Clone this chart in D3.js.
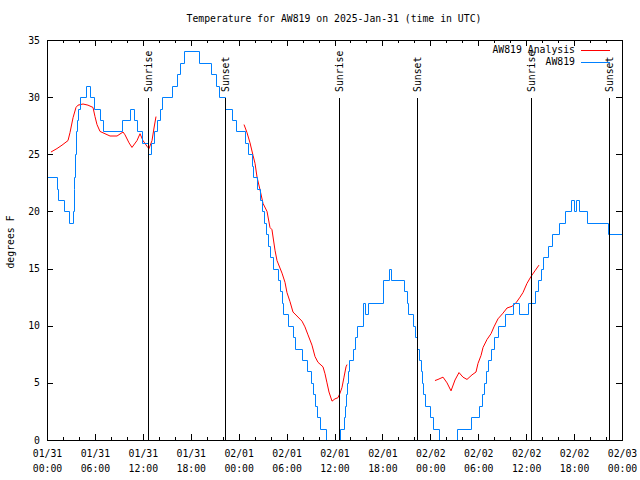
<!DOCTYPE html>
<html><head><meta charset="utf-8">
<script src="https://cdn.jsdelivr.net/npm/d3@7"></script>
<style>
body{margin:0;background:#fff}
svg{display:block}
text{font-family:"DejaVu Sans Mono","Liberation Mono",monospace;font-size:9.8px;fill:#000}
</style>
</head><body>
<svg id="c" width="640" height="480"></svg>
<script>
const startTime = Date.UTC(2025, 0, 31, 0, 0);
const endTime = Date.UTC(2025, 1, 3, 0, 0);
const titleText = "Temperature for AW819 on 2025-Jan-31 (time in UTC)";
const yLabel = "degrees F";
const seriesNames = ["AW819 Analysis", "AW819"];
const seriesColors = ["#ff0000", "#0080ff"];
const yTicks = [0, 5, 10, 15, 20, 25, 30, 35];

// Observations: hours since 01/31 00:00 UTC, value held until next point
const obsHours = [0, 1.25, 1.38, 2.13, 2.75, 3.26, 3.32, 3.38, 3.51, 3.63, 3.76, 3.88, 4.13, 4.88, 5.38, 5.89,
  6.64, 7.01, 9.39, 10.39, 10.89, 11.27, 11.9, 12.65, 13.02, 13.4, 13.77, 14.15, 14.4, 15.65, 16.28, 16.65,
  17.15, 19.03, 20.54, 21.16, 21.54, 22.29, 23.17, 23.67, 24.79, 25.17, 25.67, 25.8, 26.3, 26.67, 26.92,
  27.17, 27.42, 27.67, 27.92, 28.3, 28.93, 29.18, 29.43, 29.55, 30.18, 30.8, 31.05, 31.93, 32.56, 33.06,
  33.31, 33.56, 33.81, 34.18, 34.94, 35.06, 36.56, 36.69, 37.19, 37.32, 37.44, 37.57, 37.69, 37.82, 38.32,
  38.57, 38.82, 39.57, 39.82, 40.2, 42.07, 42.82, 43.08, 44.7, 45.08, 45.2, 45.83, 46.08, 46.33, 46.58,
  46.83, 46.96, 47.08, 47.33, 47.96, 48.33, 49.09, 49.21, 51.34, 53.09, 54.09, 54.47, 54.72, 54.97, 55.22,
  55.6, 55.97, 56.47, 57.35, 58.35, 59.1, 60.23, 61.11, 61.48, 61.86, 62.11, 62.73, 63.24, 64.11, 64.86,
  65.62, 65.99, 66.24, 66.62, 67.62, 70.25, 72];
const obsTemps = [23, 22, 21, 20, 19, 20, 22, 23, 25, 27, 28, 29, 30, 31, 30, 29,
  28, 27, 28, 29, 28, 27, 26, 25, 26, 27, 28, 29, 30, 31, 32, 33,
  34, 33, 32, 31, 30, 29, 28, 27, 26, 25, 24, 23, 22, 21, 20,
  19, 18, 17, 16, 15, 14, 13, 12, 11, 10, 9, 8, 7, 6, 5,
  4, 3, 2, 1, 0, -1, 0, 1, 2, 3, 4, 5, 6, 7, 8,
  9, 10, 12, 11, 12, 14, 15, 14, 13, 12, 11, 10, 9, 8, 7,
  6, 5, 4, 3, 2, 1, 0, -1, 1, 2, 3, 4, 5, 6, 7,
  8, 9, 10, 11, 12, 11, 12, 13, 14, 15, 16, 17, 18, 19, 20,
  21, 20, 21, 20, 19, 18, 18];

// Analysis: hours since 01/31 00:00 UTC, null marks a gap
const anaHours = [0.5, 1.25, 1.88, 2.63, 2.88, 3.26, 3.63, 3.88, 4.51, 5.13, 5.76, 6.01, 6.26, 6.64, 7.26, 7.89,
  8.77, 9.52, 9.77, 10.27, 10.64, 11.27, 11.65, 12.02, 12.52, 12.77, 13.15, 13.4, 13.65, 18,
  24.67, 25.04, 25.42, 25.8, 26.05, 26.3, 26.67, 27.05, 27.55, 27.92, 28.17, 28.55, 28.8, 29.43, 29.8,
  30.05, 30.43, 30.8, 31.3, 31.93, 32.3, 32.68, 33.18, 33.56, 33.93, 34.56, 34.81, 35.06, 35.31, 35.69,
  36.06, 36.44, 36.69, 36.94, 37.19, 37.44, 37.57, 42,
  48.58, 48.96, 49.59, 50.09, 50.59, 51.09, 51.59, 52.09, 52.59, 53.22, 53.72, 53.97, 54.35, 54.6, 55.1,
  55.6, 55.97, 56.47, 57.1, 57.6, 58.23, 58.73, 59.23, 59.6, 60.1, 60.6, 61.1, 61.6];
const anaTemps = [25.2, 25.5, 25.8, 26.2, 26.9, 28.2, 29.1, 29.3, 29.4, 29.3, 29.1, 28.3, 27.6, 27.0, 26.8, 26.6,
  26.6, 26.95, 26.7, 26.0, 25.6, 26.2, 26.8, 26.2, 25.7, 25.5, 26.2, 27.3, 28.3, null,
  27.6, 26.9, 26.0, 24.9, 24.2, 23.0, 21.9, 20.7, 20.0, 18.6, 18.4, 16.6, 15.7, 14.6, 13.8,
  12.9, 12.1, 11.2, 10.85, 10.4, 9.9, 9.2, 8.3, 7.3, 6.8, 6.4, 5.8, 5.0, 4.2, 3.4,
  3.6, 3.7, 4.1, 4.6, 5.5, 6.4, 6.6, null,
  5.2, 5.3, 5.5, 5.0, 4.3, 5.25, 5.9, 5.5, 5.3, 5.7, 5.95, 6.7, 7.4, 8.1, 8.8,
  9.3, 9.9, 10.6, 11.1, 11.55, 11.7, 12.0, 12.5, 12.9, 13.7, 14.3, 14.8, 15.3];

const sunHours = [12.65, 22.29, 36.56, 46.33, 60.6, 70.37];
const sunLabels = ["Sunrise", "Sunset", "Sunrise", "Sunset", "Sunrise", "Sunset"];

const H = 3600 * 1000;
const toDate = h => new Date(startTime + h * H);

const svg = d3.select("#c");
const L = 47, R = 622, T = 40, B = 440;
const x = d3.scaleUtc().domain([new Date(startTime), new Date(endTime)]).range([L, R]);
const y = d3.scaleLinear().domain([0, 35]).range([B, T]);
const px = v => Math.round(v) + 0.5;

svg.append("rect").attr("width", 640).attr("height", 480).attr("fill", "#fff");

svg.append("defs").append("clipPath").attr("id", "clip")
  .append("rect").attr("x", L).attr("y", T).attr("width", R - L + 1).attr("height", B - T);

// minor ticks every 2h
const minorTimes = d3.utcHour.every(2).range(new Date(startTime), new Date(endTime + 1))
  .filter(d => d.getUTCHours() % 6 !== 0);
const majorTimes = d3.utcHour.every(6).range(new Date(startTime), new Date(endTime + 1));

function styleAxis(g) {
  g.select(".domain").remove();
  g.selectAll("line").attr("stroke", "#000").attr("shape-rendering", "crispEdges");
}

svg.append("g").attr("transform", `translate(0,${B})`)
  .call(d3.axisBottom(x).tickValues(minorTimes).tickSizeInner(-3).tickSizeOuter(0).tickFormat(""))
  .call(styleAxis);
svg.append("g").attr("transform", `translate(0,${T})`)
  .call(d3.axisTop(x).tickValues(minorTimes).tickSizeInner(-3).tickSizeOuter(0).tickFormat(""))
  .call(styleAxis);
const xAxisG = svg.append("g").attr("transform", `translate(0,${B})`)
  .call(d3.axisBottom(x).tickValues(majorTimes).tickSizeInner(-6).tickSizeOuter(0).tickFormat(""))
  .call(styleAxis);
svg.append("g").attr("transform", `translate(0,${T})`)
  .call(d3.axisTop(x).tickValues(majorTimes).tickSizeInner(-6).tickSizeOuter(0).tickFormat(""))
  .call(styleAxis);

const fmtDay = d3.utcFormat("%m/%d"), fmtHour = d3.utcFormat("%H:%M");
xAxisG.selectAll(".tick").each(function(d) {
  const t = d3.select(this).append("text").attr("text-anchor", "middle");
  t.append("tspan").attr("x", 0).attr("y", 14).attr("dominant-baseline", "middle").text(fmtDay(d));
  t.append("tspan").attr("x", 0).attr("y", 29).attr("dominant-baseline", "middle").text(fmtHour(d));
});

svg.append("g").attr("transform", `translate(${L},0)`)
  .call(d3.axisLeft(y).tickValues(yTicks).tickSizeInner(-6).tickSizeOuter(0).tickPadding(7).tickFormat(d3.format("d")))
  .call(styleAxis)
  .call(g => g.selectAll("text").attr("fill", "#000"));
svg.append("g").attr("transform", `translate(${R},0)`)
  .call(d3.axisRight(y).tickValues(yTicks).tickSizeInner(-6).tickSizeOuter(0).tickFormat(""))
  .call(styleAxis);

svg.selectAll("g").attr("font-family", null).attr("font-size", null);

// data
const plot = svg.append("g").attr("clip-path", "url(#clip)");
const anaData = anaHours.map((h, i) => ({t: toDate(h), v: anaTemps[i]}));
const obsData = obsHours.map((h, i) => ({t: toDate(h), v: obsTemps[i]}));

plot.append("path").datum(anaData)
  .attr("fill", "none").attr("stroke", seriesColors[0]).attr("stroke-width", 1)
  .attr("d", d3.line().defined(d => d.v !== null).x(d => x(d.t)).y(d => y(d.v)));
plot.append("path").datum(obsData)
  .attr("fill", "none").attr("stroke", seriesColors[1]).attr("stroke-width", 1)
  .attr("d", d3.line().curve(d3.curveStepAfter).x(d => px(x(d.t))).y(d => px(y(d.v))));

// sunrise / sunset markers
const sunG = svg.append("g");
sunHours.forEach((h, i) => {
  const sx = px(x(toDate(h)));
  sunG.append("line").attr("x1", sx).attr("x2", sx).attr("y1", B).attr("y2", 98)
    .attr("stroke", "#000").attr("stroke-width", 1);
  sunG.append("text").attr("transform", `translate(${sx},92) rotate(-90)`)
    .attr("text-anchor", "start").attr("dominant-baseline", "middle").text(sunLabels[i]);
});

// border
svg.append("rect").attr("x", L + 0.5).attr("y", T + 0.5).attr("width", R - L).attr("height", B - T)
  .attr("fill", "none").attr("stroke", "#000").attr("shape-rendering", "crispEdges");

// title & axis label
svg.append("text").attr("x", 334).attr("y", 19).attr("text-anchor", "middle")
  .attr("dominant-baseline", "middle").text(titleText);
svg.append("text").attr("transform", "translate(11,242) rotate(-90)")
  .attr("text-anchor", "middle").attr("dominant-baseline", "middle").text(yLabel);

// legend
const leg = svg.append("g");
seriesNames.forEach((n, i) => {
  const ly = 50 + i * 12;
  leg.append("text").attr("x", 575).attr("y", ly).attr("text-anchor", "end")
    .attr("dominant-baseline", "middle").text(n);
  leg.append("line").attr("x1", 581).attr("x2", 610).attr("y1", ly + 0.5).attr("y2", ly + 0.5)
    .attr("stroke", seriesColors[i]).attr("stroke-width", 1).attr("shape-rendering", "crispEdges");
});
</script>
</body></html>
